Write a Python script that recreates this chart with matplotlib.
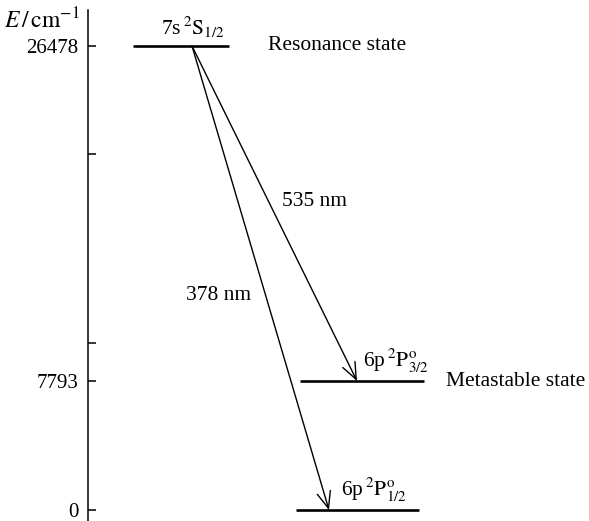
import numpy as np
import matplotlib
matplotlib.use("Agg")
import matplotlib.pyplot as plt

plt.rcParams["font.family"] = ["Liberation Serif", "DejaVu Serif"]
plt.rcParams["mathtext.fontset"] = "stix"

# energy levels (cm^-1)
levelEnergies = [26478, 7793, 0]
levelTerms = [r"7s$\,^{2}\mathrm{S}_{1/2}$",
              r"6p$\,^{2}\mathrm{P}^{\mathrm{o}}_{3/2}$",
              r"6p$\,^{2}\mathrm{P}^{\mathrm{o}}_{1/2}$"]
levelNames = ["Resonance state", "Metastable state", ""]
tickEnergies = [0, 7793, 10000, 20000, 26478]
tickLabels = ["0", "7793", "", "", "26478"]
transitionUpper = [26478, 26478]
transitionLower = [7793, 0]
transitionLabels = ["535 nm", "378 nm"]

# schematic (non-linear) energy axis, in pixels above the ground level
axisKnotsE = np.array([-2000, 0, 7793, 10000, 20000, 26478, 40000])
axisKnotsPx = np.array([-33, 0, 129, 167, 356, 464, 706])


def forward(e):
    return np.interp(e, axisKnotsE, axisKnotsPx)


def inverse(p):
    return np.interp(p, axisKnotsPx, axisKnotsE)


fig = plt.figure(figsize=(5.89, 5.21), dpi=100)
ax = fig.add_axes([88 / 589, 0, 1 - 88 / 589, 511 / 521])
ax.set_yscale("function", functions=(forward, inverse))
ax.set_ylim(inverse(-11), inverse(500))
ax.set_xlim(88, 589)

for side in ["top", "right", "bottom"]:
    ax.spines[side].set_visible(False)
ax.spines["left"].set_linewidth(1.1)
ax.set_xticks([])
ax.set_yticks(tickEnergies)
ax.set_yticklabels(tickLabels, fontsize=15)
ax.yaxis.set_minor_locator(matplotlib.ticker.NullLocator())
ax.tick_params(axis="y", direction="in", length=6, width=1.1, pad=7)

ax.text(-8 / 501, 1.005, r"$E\,/\,\mathrm{cm}^{-1}$", transform=ax.transAxes,
        ha="right", va="top", fontsize=17)

# level lines: x extents, term label and name placement
levelX = [(133, 229), (300, 424), (296, 419)]
termX = [193, 396, 374]
nameX = [268, 446, 0]
for energy, (x0, x1), term, tx, name, nx in zip(levelEnergies, levelX,
                                                levelTerms, termX,
                                                levelNames, nameX):
    ax.plot([x0, x1], [energy, energy], color="black", lw=1.9,
            solid_capstyle="butt")
    ax.annotate(term, (tx, energy), xytext=(0, 4), textcoords="offset points",
                ha="center", va="bottom", fontsize=15.5)
    if name:
        ax.text(nx, energy, name, ha="left", va="center", fontsize=15.5)

# transitions
arrowStart = 192
arrowEnd = [357, 329]
labelPos = [(315, 17500), (219, 12500)]
for up, low, xe, lab, (lx, ly) in zip(transitionUpper, transitionLower,
                                      arrowEnd, transitionLabels, labelPos):
    ax.annotate("", xy=(xe, low), xytext=(arrowStart, up),
                arrowprops=dict(arrowstyle="->,head_length=0.85,head_width=0.35",
                                color="black", lw=1.0, shrinkA=0, shrinkB=0,
                                mutation_scale=14))
    ax.text(lx, ly, lab, ha="center", va="center", fontsize=15.5)

fig.savefig("out.png", dpi=100)
